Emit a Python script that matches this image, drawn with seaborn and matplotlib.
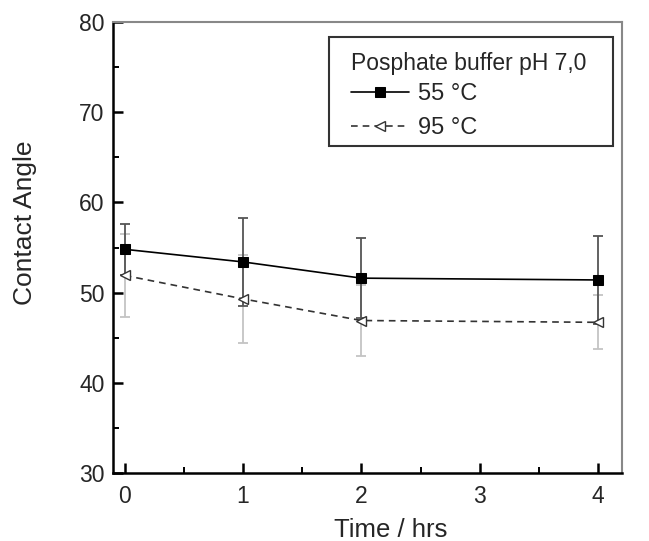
import matplotlib
matplotlib.use("Agg")
import matplotlib.pyplot as plt
import seaborn as sns
import pandas as pd
from matplotlib.ticker import MultipleLocator
from matplotlib.patches import Rectangle

time_hrs = [0, 1, 2, 4]
angle_55 = [54.8, 53.4, 51.6, 51.4]
err_55 = [2.8, 4.85, 4.4, 4.9]
angle_95 = [51.9, 49.3, 46.9, 46.7]
err_95 = [4.6, 4.9, 3.9, 3.0]
labels = ["55 °C", "95 °C"]
legend_title = "Posphate buffer pH 7,0"

sns.set_style("ticks")
plt.rcParams['font.family'] = ['Liberation Sans', 'DejaVu Sans']

df = pd.DataFrame({
    "Time": time_hrs * 2,
    "Angle": angle_55 + angle_95,
    "Series": [labels[0]] * len(time_hrs) + [labels[1]] * len(time_hrs),
})

fig = plt.figure(figsize=(6.49, 5.41), dpi=100)
ax = fig.add_axes([0.174, 0.126, 0.784, 0.833])

# error bars
ax.errorbar(time_hrs, angle_95, yerr=err_95, fmt="none", ecolor="#c4c4c4",
            elinewidth=1.3, capsize=3.3, capthick=1.3, zorder=1)
ax.errorbar(time_hrs, angle_55, yerr=err_55, fmt="none", ecolor="#555555",
            elinewidth=1.3, capsize=3.3, capthick=1.3, zorder=1)

sns.lineplot(data=df[df.Series == labels[0]], x="Time", y="Angle", ax=ax,
             color="black", lw=1.2, marker="s", markersize=6.5,
             markerfacecolor="black", markeredgecolor="black", label=labels[0], zorder=3)
sns.lineplot(data=df[df.Series == labels[1]], x="Time", y="Angle", ax=ax,
             color="#333333", lw=1.2, linestyle=(0, (4, 3)), marker="<", markersize=7.5,
             markerfacecolor="white", markeredgecolor="#333333", markeredgewidth=1.0,
             label=labels[1], zorder=3)

ax.set_xlim(-0.1, 4.2)
ax.set_ylim(30, 80)
ax.xaxis.set_major_locator(MultipleLocator(1))
ax.xaxis.set_minor_locator(MultipleLocator(0.5))
ax.yaxis.set_major_locator(MultipleLocator(10))
ax.yaxis.set_minor_locator(MultipleLocator(5))
ax.tick_params(which="both", direction="in", top=False, right=False, labelsize=16.5,
               color="black", pad=6)
ax.tick_params(which="major", length=7, width=1.8)
ax.tick_params(which="minor", length=4, width=1.4)
ax.tick_params(axis="x", pad=9)

for s in ["left", "bottom"]:
    ax.spines[s].set_linewidth(1.8)
    ax.spines[s].set_color("black")
for s in ["top", "right"]:
    ax.spines[s].set_visible(True)
    ax.spines[s].set_linewidth(1.5)
    ax.spines[s].set_color("#888888")

ax.set_xlabel("Time / hrs", fontsize=18.5)
ax.set_ylabel("Contact Angle", fontsize=19)
ax.xaxis.set_label_coords(0.546, -0.10)
ax.yaxis.set_label_coords(-0.149, 0.556)

# legend frame drawn separately
frame = Rectangle((0.424, 0.725), 0.558, 0.242, transform=ax.transAxes,
                  facecolor="white", edgecolor="#333333", linewidth=1.5, zorder=4)
ax.add_patch(frame)

leg = ax.legend(title=legend_title, loc="upper left", bbox_to_anchor=(0.468, 0.934),
                borderaxespad=0, borderpad=0,
                fontsize=17, title_fontsize=16.5, frameon=False,
                handlelength=2.45, handletextpad=0.38, labelspacing=0.5)
leg.set_zorder(5)
leg._legend_box.align = "left"
leg._legend_box.sep = 6

fig.savefig("out.png", dpi=100)
